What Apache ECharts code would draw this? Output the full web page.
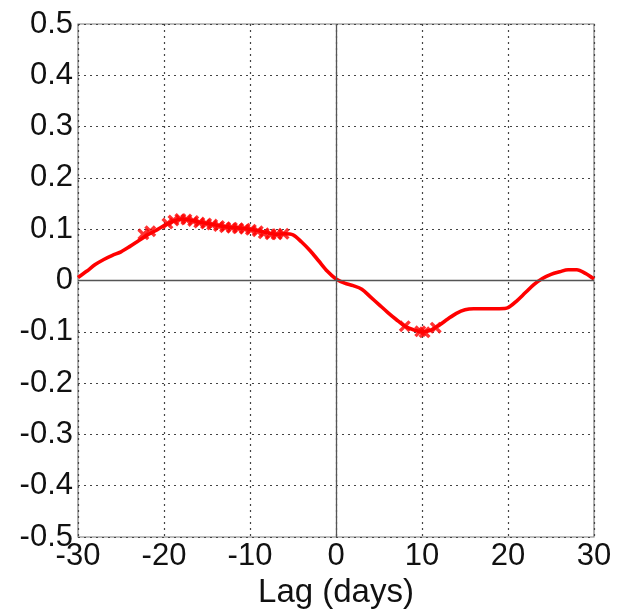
<!DOCTYPE html>
<html>
<head>
<meta charset="utf-8">
<script src="https://cdn.jsdelivr.net/npm/echarts@6/dist/echarts.min.js"></script>
<style>
  html, body { margin: 0; padding: 0; background: #fff; }
  #chart { width: 622px; height: 610px; }
</style>
</head>
<body>
<div id="chart"></div>
<script>
// Lagged correlation curve, one value per day of lag
const lags = [];
for (let d = -30; d <= 30; d++) lags.push(d);
const corr = [
  0.006, 0.018, 0.031, 0.041, 0.049, 0.056, 0.066, 0.077, 0.088, 0.097,
  0.107, 0.115, 0.120, 0.118, 0.114, 0.111, 0.108, 0.105, 0.103, 0.102,
  0.100, 0.097, 0.093, 0.090, 0.091, 0.089, 0.075, 0.058, 0.038, 0.018,
  0.003, -0.005, -0.010, -0.017, -0.032, -0.047, -0.062, -0.076, -0.089, -0.096,
  -0.100, -0.097, -0.087, -0.075, -0.064, -0.057, -0.055, -0.055, -0.055, -0.055,
  -0.053, -0.040, -0.024, -0.008, 0.004, 0.012, 0.017, 0.021, 0.021, 0.014,
  0.003
];

// Lags flagged as significant (drawn with x markers) and their values
const sigLags = [
  -22.4, -21.6,
  -19.6, -18.9, -18.1, -17.4, -16.6, -15.9, -15.1, -14.4, -13.6,
  -12.9, -12.1, -11.4, -10.6, -9.9, -9.1, -8.4, -7.6, -6.9, -6.1,
  8.0, 9.8, 10.3, 11.6
];
const sigVals = [
  0.090, 0.096,
  0.111, 0.117, 0.120, 0.119, 0.116, 0.113, 0.111, 0.109, 0.106,
  0.104, 0.103, 0.102, 0.101, 0.099, 0.096, 0.092, 0.090, 0.090, 0.091,
  -0.089, -0.099, -0.101, -0.092
];

const xTicks = [-30, -20, -10, 0, 10, 20, 30];
const yTicks = [-0.5, -0.4, -0.3, -0.2, -0.1, 0, 0.1, 0.2, 0.3, 0.4, 0.5];

const FONT = '"Liberation Sans", Arial, sans-serif';
const crossPath = 'path://M0,2L2,0L5,3L8,0L10,2L7,5L10,8L8,10L5,7L2,10L0,8L3,5Z';

const chart = echarts.init(document.getElementById('chart'), null, { renderer: 'canvas' });

chart.setOption({
  animation: false,
  backgroundColor: '#ffffff',
  grid: {
    left: 78, right: 28, top: 24, bottom: 73,
    containLabel: false, outerBoundsMode: 'none',
    show: true, borderColor: '#7f7f7f', borderWidth: 1.2
  },
  xAxis: {
    type: 'value',
    min: -30, max: 30, interval: 10,
    name: 'Lag (days)',
    nameLocation: 'middle',
    nameGap: 36,
    nameTextStyle: { fontFamily: FONT, fontSize: 33, color: '#111' },
    axisLine: { show: false },
    axisTick: { show: false },
    axisLabel: {
      fontFamily: FONT, fontSize: 31, color: '#111', margin: 4,
      formatter: v => xTicks.includes(v) ? String(v) : ''
    },
    splitLine: { show: true, lineStyle: { color: '#444', type: [2, 4], width: 1.2 } }
  },
  yAxis: {
    type: 'value',
    min: -0.5, max: 0.5, interval: 0.1,
    axisLine: { show: false },
    axisTick: { show: false },
    axisLabel: {
      fontFamily: FONT, fontSize: 31, color: '#111', margin: 5,
      formatter: v => {
        const t = yTicks.find(k => Math.abs(k - v) < 1e-9);
        return t === undefined ? '' : (t === 0 ? '0' : String(t));
      }
    },
    splitLine: { show: true, lineStyle: { color: '#444', type: [2, 4], width: 1.2 } }
  },
  series: [
    {
      // solid zero reference lines
      type: 'line',
      data: [],
      markLine: {
        silent: true,
        symbol: 'none',
        label: { show: false },
        lineStyle: { color: '#555', type: 'solid', width: 1.3 },
        data: [{ xAxis: 0 }, { yAxis: 0 }]
      }
    },
    {
      type: 'line',
      data: lags.map((d, i) => [d, corr[i]]),
      showSymbol: false,
      smooth: 0.3,
      lineStyle: { color: '#ff0000', width: 3.6 },
      z: 3
    },
    {
      type: 'scatter',
      data: sigLags.map((d, i) => [d, sigVals[i]]),
      symbol: crossPath,
      symbolSize: 12,
      itemStyle: { color: '#ff0000' },
      z: 4
    }
  ]
});
</script>
</body>
</html>
